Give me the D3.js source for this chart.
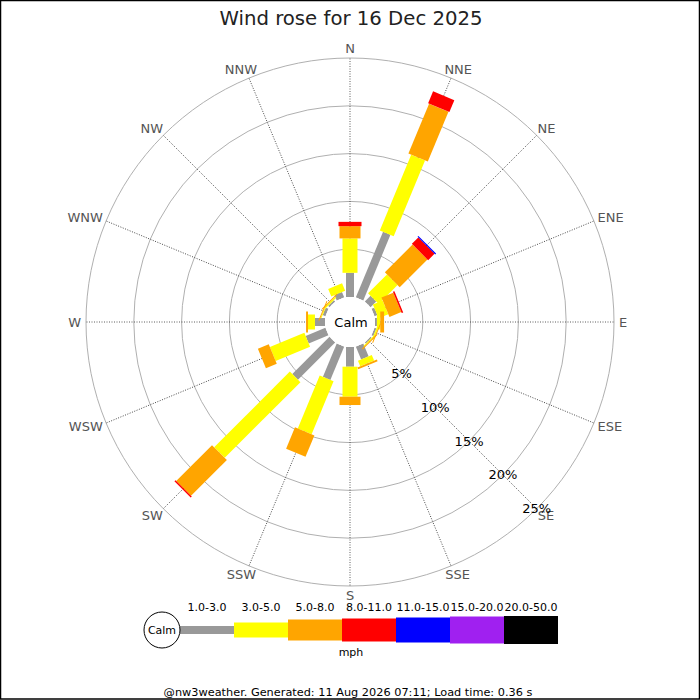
<!DOCTYPE html>
<html>
<head>
<meta charset="utf-8">
<script src="https://cdn.jsdelivr.net/npm/d3@7"></script>
<style>
  html, body { margin: 0; padding: 0; background: #fff; }
  svg { display: block; font-family: "DejaVu Sans", sans-serif; }
</style>
</head>
<body>
<svg id="chart" width="700" height="700"></svg>
<script>
// ---- data (percent of time, per direction) ----
const directions = ["N","NNE","NE","ENE","E","ESE","SE","SSE","S","SSW","SW","WSW","W","WNW","NW","NNW"];
const bandLabels = ["1.0-3.0","3.0-5.0","5.0-8.0","8.0-11.0","11.0-15.0","15.0-20.0","20.0-50.0"];
const bandColors = ["#999999","#ffff00","#ffa500","#ff0000","#0000ff","#a020f0","#000000"];
const band1to3   = [2.53, 7.43, 0.84, 0.30, 0.20, 0.20, 0.15, 1.45, 2.06, 3.77, 5.50, 2.23, 1.05, 0.30, 0.20, 0.60];
const band3to5   = [3.60, 8.57, 2.80, 1.10, 0.35, 0.15, 0.10, 0.63, 3.14, 6.00, 11.20, 3.90, 0.73, 0.10, 0.15, 0.85];
const band5to8   = [1.28, 5.65, 4.10, 1.34, 0.40, 0.10, 0.12, 0.20, 0.87, 2.43, 5.30, 1.23, 0.20, 0.10, 0.10, 0.00];
const band8to11  = [0.45, 1.35, 0.95, 0.17, 0, 0, 0, 0, 0, 0, 0.15, 0, 0, 0, 0, 0];
const band11to15 = [0, 0, 0.12, 0, 0, 0, 0, 0, 0, 0, 0, 0, 0, 0, 0, 0];
const band15to20 = [0, 0, 0, 0, 0, 0, 0, 0, 0, 0, 0, 0, 0, 0, 0, 0];
const band20to50 = [0, 0, 0, 0, 0, 0, 0, 0, 0, 0, 0, 0, 0, 0, 0, 0];
const ringTicks = [5, 10, 15, 20, 25];
const titleText = "Wind rose for 16 Dec 2025";
const unitText = "mph";
const footerText = "@nw3weather. Generated: 11 Aug 2026 07:11; Load time: 0.36 s";

const bands = [band1to3, band3to5, band5to8, band8to11, band11to15, band15to20, band20to50];
const bandWidths = [8, 15, 21, 23, 25, 27, 28];

// ---- layout ----
const svg = d3.select("#chart");
const cx = 350, cy = 322;
const calmR = 25;
const r = d3.scaleLinear().domain([0, 25]).range([calmR, 264]);
const ang = d3.scalePoint().domain(directions).range([0, 337.5]);
const rad = a => a * Math.PI / 180;

// border
svg.append("rect").attr("x", 0.5).attr("y", 0.5).attr("width", 699).attr("height", 698.5)
  .attr("fill", "none").attr("stroke", "#000").attr("stroke-width", 1.5);

// title
svg.append("text").attr("x", 351).attr("y", 25).attr("text-anchor", "middle")
  .attr("font-size", 19.7).attr("fill", "#222").text(titleText);

const g = svg.append("g").attr("transform", `translate(${cx},${cy})`);

// grid rings
g.selectAll("circle.ring").data(ringTicks).join("circle")
  .attr("class", "ring").attr("r", d => r(d))
  .attr("fill", "none").attr("stroke", "#b0b0b0").attr("stroke-width", 1);

// spokes
g.selectAll("line.spoke").data(directions).join("line")
  .attr("class", "spoke")
  .attr("transform", d => `rotate(${ang(d)})`)
  .attr("x1", 0).attr("y1", -calmR).attr("x2", 0).attr("y2", -r(25))
  .attr("stroke", "#333").attr("stroke-width", 0.8).attr("stroke-dasharray", "1,1.5");

// direction labels (box pushed outward from an anchor radius)
const labR = 269, halfH = 4.8;
g.selectAll("text.dir").data(directions).join("text")
  .attr("class", "dir")
  .attr("text-anchor", "middle").attr("dominant-baseline", "central")
  .attr("font-size", 13).attr("fill", "#555").text(d => d)
  .each(function(d) {
    const s = Math.sin(rad(ang(d))), c = Math.cos(rad(ang(d)));
    const hw = this.getComputedTextLength() / 2;
    d3.select(this)
      .attr("x", labR * s + hw * s)
      .attr("y", -labR * c - halfH * c);
  });

// stacked bars
const segs = [];
directions.forEach((dir, i) => {
  let cum = 0;
  bands.forEach((vals, k) => {
    const v = vals[i];
    if (v > 0) {
      segs.push({dir, k, r0: r(cum), r1: r(cum + v)});
    }
    cum += v;
  });
});
segs.sort((a, b) => a.k - b.k);
g.selectAll("rect.seg").data(segs).join("rect")
  .attr("class", "seg")
  .attr("transform", d => `rotate(${ang(d.dir)})`)
  .attr("x", d => -bandWidths[d.k] / 2)
  .attr("y", d => -d.r1)
  .attr("width", d => bandWidths[d.k])
  .attr("height", d => Math.max(0.8, d.r1 - d.r0))
  .attr("fill", d => bandColors[d.k]);

// calm circle
g.append("circle").attr("r", calmR).attr("fill", "#fff");
g.append("text").attr("x", 1).attr("y", 0).attr("text-anchor", "middle")
  .attr("dominant-baseline", "central").attr("font-size", 13).attr("fill", "#000").text("Calm");

// ring labels along SE
const seA = rad(135);
g.selectAll("text.ringlab").data(ringTicks).join("text")
  .attr("class", "ringlab")
  .attr("x", d => r(d) * Math.sin(seA))
  .attr("y", d => -r(d) * Math.cos(seA))
  .attr("text-anchor", "middle").attr("dominant-baseline", "central")
  .attr("font-size", 13).attr("fill", "#000").text(d => d + "%");

// ---- legend ----
const lx = d3.scaleBand().domain(bandLabels).range([180, 558]);
const ly = 630;
svg.selectAll("rect.leg").data(bandLabels).join("rect")
  .attr("class", "leg")
  .attr("x", d => lx(d)).attr("width", lx.bandwidth())
  .attr("y", (d, i) => ly - bandWidths[i] / 2).attr("height", (d, i) => bandWidths[i])
  .attr("fill", (d, i) => bandColors[i]);
svg.selectAll("text.leglab").data(bandLabels).join("text")
  .attr("class", "leglab")
  .attr("x", d => lx(d) + lx.bandwidth() / 2).attr("y", 611)
  .attr("text-anchor", "middle").attr("font-size", 11).attr("fill", "#000").text(d => d);
svg.append("circle").attr("cx", 162).attr("cy", ly).attr("r", 18)
  .attr("fill", "#fff").attr("stroke", "#000").attr("stroke-width", 1);
svg.append("text").attr("x", 162).attr("y", ly).attr("text-anchor", "middle")
  .attr("dominant-baseline", "central").attr("font-size", 11).text("Calm");
svg.append("text").attr("x", 351).attr("y", 656).attr("text-anchor", "middle")
  .attr("font-size", 11).text(unitText);

// footer
svg.append("text").attr("x", 348).attr("y", 696).attr("text-anchor", "middle")
  .attr("font-size", 11.3).attr("fill", "#000").text(footerText);
</script>
</body>
</html>
